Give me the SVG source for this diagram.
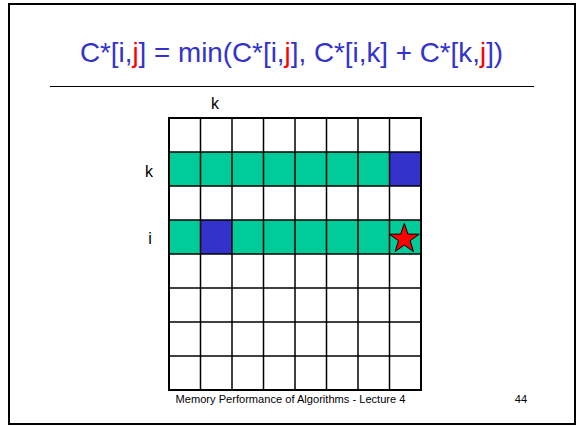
<svg xmlns="http://www.w3.org/2000/svg" width="578" height="426" viewBox="0 0 578 426">
<style>
.t{font-family:"Liberation Sans",Arial,sans-serif}
.lbl{font-size:16px;fill:#000}
.g{fill:#00cc99}
.b{fill:#3333cc}
.grid line{stroke:#000;stroke-width:1.5}
</style>
<rect x="0" y="0" width="578" height="426" fill="#fff"/>
<rect x="9" y="4" width="566" height="420" fill="#fff" stroke="#000" stroke-width="2"/>
<text class="t" x="291.5" y="62" text-anchor="middle" font-size="27.8" fill="#3333cc">C*[i,<tspan fill="#ff0000">j</tspan>] = min(C*[i,<tspan fill="#ff0000">j</tspan>], C*[i,k] + C*[k,<tspan fill="#ff0000">j</tspan>])</text>
<line x1="50" y1="86.5" x2="534" y2="86.5" stroke="#000" stroke-width="1.2"/>
<g id="labels">
<text class="t lbl" x="215" y="109" text-anchor="middle">k</text>
<text class="t lbl" x="149" y="177" text-anchor="middle">k</text>
<text class="t lbl" x="150" y="244" text-anchor="middle">i</text>
</g>
<g id="cells">
<rect class="g" x="169" y="152" width="252" height="34"/>
<rect class="b" x="390" y="152" width="31" height="34"/>
<rect class="g" x="169" y="220" width="252" height="34"/>
<rect class="b" x="200.5" y="220" width="31.5" height="34"/>
</g>
<g id="grid" class="grid">
<line x1="200.5" y1="118" x2="200.5" y2="390"/>
<line x1="232" y1="118" x2="232" y2="390"/>
<line x1="263.5" y1="118" x2="263.5" y2="390"/>
<line x1="295" y1="118" x2="295" y2="390"/>
<line x1="326.5" y1="118" x2="326.5" y2="390"/>
<line x1="358" y1="118" x2="358" y2="390"/>
<line x1="389.5" y1="118" x2="389.5" y2="390"/>
<line x1="169" y1="152" x2="421" y2="152"/>
<line x1="169" y1="186" x2="421" y2="186"/>
<line x1="169" y1="220" x2="421" y2="220"/>
<line x1="169" y1="254" x2="421" y2="254"/>
<line x1="169" y1="288" x2="421" y2="288"/>
<line x1="169" y1="322" x2="421" y2="322"/>
<line x1="169" y1="356" x2="421" y2="356"/>
<rect x="169" y="118" width="252" height="272" fill="none" stroke="#000" stroke-width="2"/>
</g>
<g id="star">
<polygon points="404.3,223.3 407.9,234.1 419.2,234.2 410.1,240.8 413.5,251.6 404.3,245.0 395.1,251.6 398.5,240.8 389.4,234.2 400.7,234.1" fill="#ff0000" stroke="#000" stroke-width="1"/>
</g>
<text class="t" x="290.5" y="403" text-anchor="middle" font-size="11.1" fill="#000">Memory Performance of Algorithms - Lecture 4</text>
<text class="t" x="521" y="403" text-anchor="middle" font-size="11.1" fill="#000">44</text>
</svg>
